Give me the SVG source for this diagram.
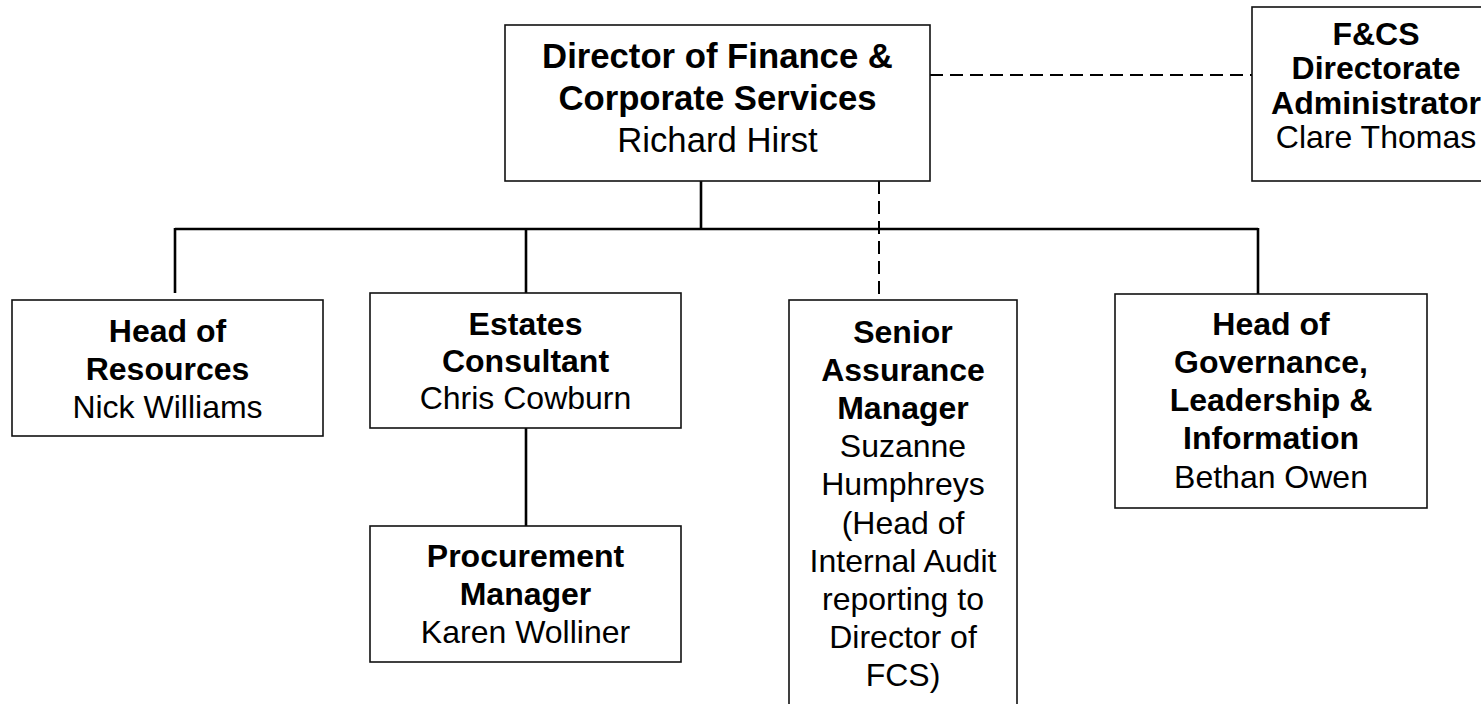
<svg xmlns="http://www.w3.org/2000/svg" width="1481" height="704" viewBox="0 0 1481 704">
<style>
.box{fill:#fff;stroke:#111;stroke-width:1.6}
.t{font-family:"Liberation Sans",Arial,sans-serif;fill:#000;text-anchor:middle}
.b{font-weight:bold}
.conn{stroke:#000;fill:none;stroke-width:2.6}
.dash{stroke:#000;fill:none;stroke-width:2;stroke-dasharray:13 7}
</style>
<rect width="1481" height="704" fill="#fff"/>
<g id="connectors">
<line class="conn" x1="701" y1="181" x2="701" y2="229"/>
<line class="conn" x1="175" y1="229" x2="1258" y2="229" stroke-width="2.2"/>
<line class="conn" x1="175" y1="228" x2="175" y2="293"/>
<line class="conn" x1="526" y1="228" x2="526" y2="293"/>
<line class="conn" x1="1258" y1="228" x2="1258" y2="294"/>
<line class="conn" x1="526" y1="428" x2="526" y2="526"/>
<line class="dash" x1="879" y1="181" x2="879" y2="300"/>
<line class="dash" x1="930" y1="75" x2="1252" y2="75"/>
</g>
<g id="director">
<rect class="box" x="505" y="25" width="425" height="156"/>
<text class="t b" x="717.5" y="68" font-size="34.7">Director of Finance &amp;</text>
<text class="t b" x="717.5" y="110" font-size="34.7">Corporate Services</text>
<text class="t" x="717.5" y="152" font-size="34.7">Richard Hirst</text>
</g>
<g id="administrator">
<rect class="box" x="1252" y="7" width="250" height="174"/>
<text class="t b" x="1376" y="44.5" font-size="32">F&amp;CS</text>
<text class="t b" x="1376" y="79" font-size="32">Directorate</text>
<text class="t b" x="1376" y="113.5" font-size="32">Administrator</text>
<text class="t" x="1376" y="148" font-size="32">Clare Thomas</text>
</g>
<g id="resources">
<rect class="box" x="12" y="300" width="311" height="136"/>
<text class="t b" x="167.5" y="342" font-size="32">Head of</text>
<text class="t b" x="167.5" y="380" font-size="32">Resources</text>
<text class="t" x="167.5" y="418" font-size="32">Nick Williams</text>
</g>
<g id="estates">
<rect class="box" x="370" y="293" width="311" height="135"/>
<text class="t b" x="525.5" y="335" font-size="32">Estates</text>
<text class="t b" x="525.5" y="372" font-size="32">Consultant</text>
<text class="t" x="525.5" y="409" font-size="32">Chris Cowburn</text>
</g>
<g id="procurement">
<rect class="box" x="370" y="526" width="311" height="136"/>
<text class="t b" x="525.5" y="567" font-size="32">Procurement</text>
<text class="t b" x="525.5" y="605" font-size="32">Manager</text>
<text class="t" x="525.5" y="643" font-size="32">Karen Wolliner</text>
</g>
<g id="assurance">
<rect class="box" x="789" y="300" width="228" height="420"/>
<text class="t b" x="903" y="342.5" font-size="32">Senior</text>
<text class="t b" x="903" y="380.7" font-size="32">Assurance</text>
<text class="t b" x="903" y="418.9" font-size="32">Manager</text>
<text class="t" x="903" y="457.1" font-size="32">Suzanne</text>
<text class="t" x="903" y="495.3" font-size="32">Humphreys</text>
<text class="t" x="903" y="533.5" font-size="32">(Head of</text>
<text class="t" x="903" y="571.7" font-size="32">Internal Audit</text>
<text class="t" x="903" y="609.9" font-size="32">reporting to</text>
<text class="t" x="903" y="648.1" font-size="32">Director of</text>
<text class="t" x="903" y="686.3" font-size="32">FCS)</text>
</g>
<g id="governance">
<rect class="box" x="1115" y="294" width="312" height="214"/>
<text class="t b" x="1271" y="334.5" font-size="32">Head of</text>
<text class="t b" x="1271" y="372.8" font-size="32">Governance,</text>
<text class="t b" x="1271" y="411.1" font-size="32">Leadership &amp;</text>
<text class="t b" x="1271" y="449.4" font-size="32">Information</text>
<text class="t" x="1271" y="487.7" font-size="32">Bethan Owen</text>
</g>
</svg>
